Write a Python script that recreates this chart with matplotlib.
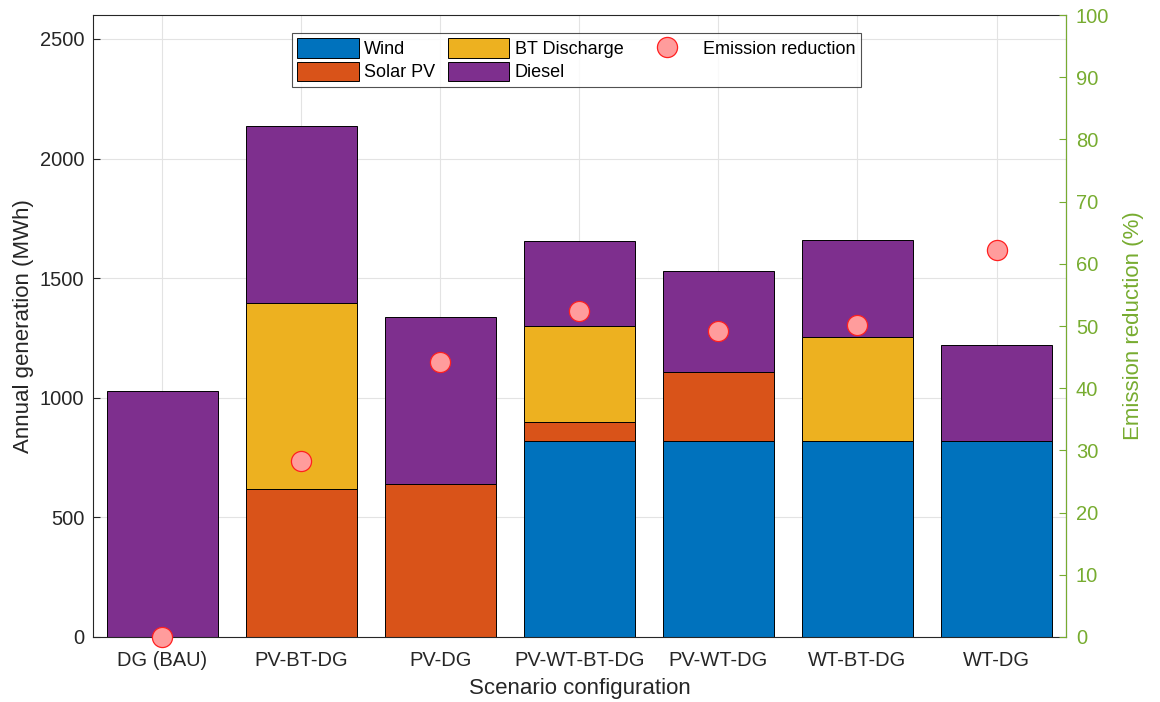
#!/usr/bin/env python3
"""Stacked annual generation per scenario with emission reduction on a second axis."""

import matplotlib

matplotlib.use("Agg")
import matplotlib.pyplot as plt
import numpy as np

plt.rcParams["font.family"] = ["Liberation Sans", "DejaVu Sans"]

scenarios = ["DG (BAU)", "PV-BT-DG", "PV-DG", "PV-WT-BT-DG", "PV-WT-DG", "WT-BT-DG", "WT-DG"]
wind = [0, 0, 0, 821, 821, 821, 821]
solar_pv = [0, 620, 641, 79, 285, 0, 0]
bt_discharge = [0, 775, 0, 398, 0, 431, 0]
diesel = [1030, 741, 695, 356, 423, 406, 398]
emission_reduction = [0, 28.3, 44.2, 52.4, 49.2, 50.2, 62.2]

series = [
    ("Wind", wind, "#0072BD"),
    ("Solar PV", solar_pv, "#D95319"),
    ("BT Discharge", bt_discharge, "#EDB120"),
    ("Diesel", diesel, "#7E2F8E"),
]
green = "#77AC30"
dark = "#262626"

fig = plt.figure(figsize=(11.6, 7.02), dpi=100)
ax = fig.add_axes([0.080, 0.0926, 0.839, 0.886])
x = np.arange(len(scenarios))

handles = []
bottom = np.zeros(len(scenarios))
for label, vals, color in series:
    vals = np.asarray(vals, dtype=float)
    h = ax.bar(x, vals, 0.8, bottom=bottom, color=color, edgecolor="black",
               linewidth=0.7, label=label, zorder=2)
    handles.append(h)
    bottom += vals

ax.set_xlim(-0.5, len(scenarios) - 0.5)
ax.set_ylim(0, 2600)
ax.set_yticks(np.arange(0, 2501, 500))
ax.set_xticks(x, scenarios)
ax.grid(True, color="#e3e3e3", linewidth=0.8, zorder=0)
ax.set_axisbelow(True)
ax.tick_params(direction="in", labelsize=14.5, length=5, color=dark, labelcolor=dark)
ax.tick_params(axis="x", pad=10)
ax.tick_params(axis="y", pad=6)
ax.set_xlabel("Scenario configuration", fontsize=16, color=dark, labelpad=6)
ax.set_ylabel("Annual generation (MWh)", fontsize=16, color=dark, labelpad=4)
for s in ax.spines.values():
    s.set_color(dark)
    s.set_linewidth(0.8)

ax2 = ax.twinx()
ax2.set_ylim(0, 100)
ax2.set_yticks(np.arange(0, 101, 10))
sc = ax2.scatter(x, emission_reduction, s=210, facecolor="#FF9C9C", edgecolor="#FF2020",
                 linewidth=0.9, zorder=5, clip_on=False, label="Emission reduction")
ax2.tick_params(direction="in", labelsize=14.5, length=5, colors=green, pad=7)
ax2.set_ylabel("Emission reduction (%)", fontsize=16, color=green, labelpad=10)
ax2.spines["right"].set_color(green)
ax2.spines["right"].set_linewidth(0.8)
for side in ("left", "top", "bottom"):
    ax2.spines[side].set_visible(False)

leg = ax2.legend(handles + [sc], [h.get_label() for h in handles] + ["Emission reduction"],
                 ncol=3, loc="upper center", bbox_to_anchor=(0.497, 0.971), borderaxespad=0,
                 fontsize=13, frameon=True, fancybox=False, edgecolor=dark,
                 handlelength=3.4, handleheight=1.25, columnspacing=0.7, handletextpad=0.3,
                 borderpad=0.3, labelspacing=0.2)
leg.get_frame().set_linewidth(0.8)

fig.savefig("out.png", dpi=100)
plt.close(fig)
